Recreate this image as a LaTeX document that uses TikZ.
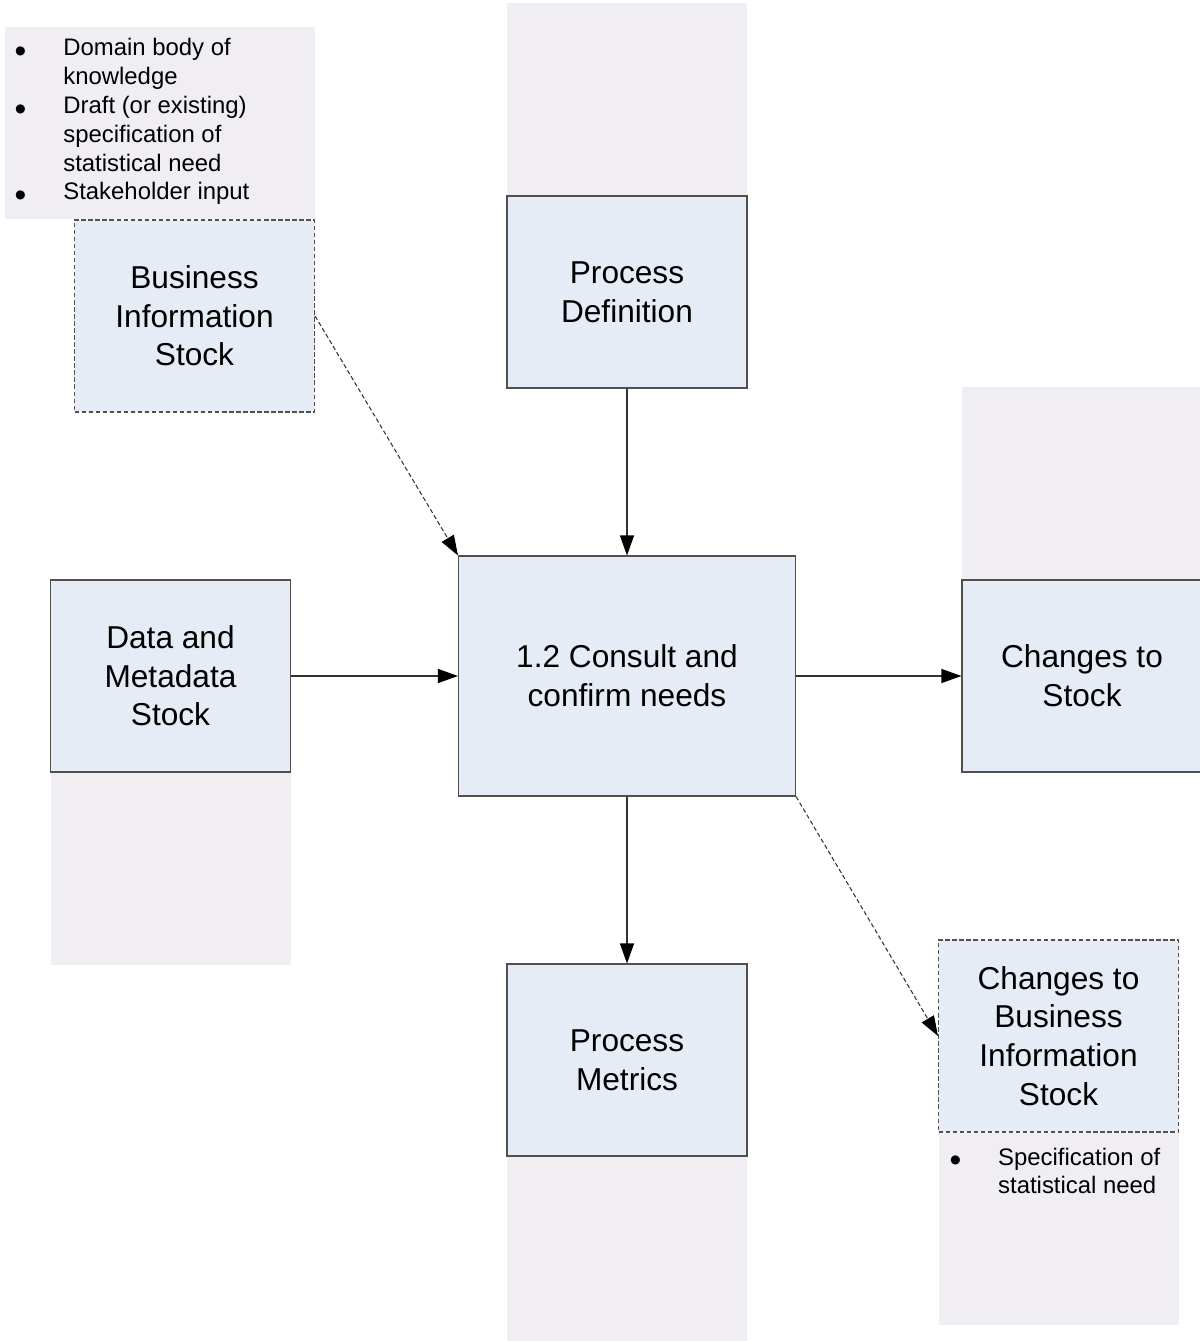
\documentclass[tikz,border=0pt]{standalone}
\usepackage{fontspec}
\setmainfont{Liberation Sans}
\usetikzlibrary{positioning, arrows.meta, backgrounds}

\definecolor{stockblue}{RGB}{230,236,246}
\definecolor{notegrey}{RGB}{240,238,243}
\definecolor{edgegrey}{RGB}{80,80,80}
\newcommand{\bigdot}{\raisebox{-3.8pt}{\fontsize{19}{19}\selectfont\textbullet}}

\begin{document}
\begin{tikzpicture}[every node/.style={font=\fontsize{18}{22}\selectfont},
    stock/.style={rectangle, draw=edgegrey, fill=stockblue, line width=0.6pt, minimum width=4.8cm, minimum height=3.84cm, align=center, inner sep=0pt},
    stockdash/.style={stock, dash pattern=on 2.5pt off 1.5pt},
    panel/.style={rectangle, fill=notegrey, minimum width=4.8cm, minimum height=3.84cm, inner sep=0pt},
    bullets/.style={font=\fontsize{13.6}{16.4}\selectfont, inner sep=0pt, align=left},
    flow/.style={-{Triangle[length=0.4cm, width=0.28cm, color=black]}, draw=black!80, line width=0.6pt},
    optflow/.style={flow, dash pattern=on 2.5pt off 1.5pt}]
    \useasboundingbox (0,0) rectangle (24,-26.82);

    \node[stockdash] (bis) at (3.89,-6.32) {Business\\Information\\Stock};
    \node[stock] (pdef) at (12.54,-5.84) {Process\\Definition};
    \node[stock, minimum width=6.74cm, minimum height=4.8cm] (core) at (12.54,-13.52) {1.2 Consult and\\confirm needs};
    \node[stock] (dms) at (3.41,-13.52) {Data and\\Metadata\\Stock};
    \node[stock] (cstock) at (21.64,-13.52) {Changes to\\Stock};
    \node[stock] (pmet) at (12.54,-21.2) {Process\\Metrics};
    \node[stockdash] (cbis) at (21.17,-20.72) {Changes to\\Business\\Information\\Stock};

    \begin{pgfonlayer}{background}
    \node[panel, minimum width=6.2cm, above left=0pt and 0pt of bis.north east] (bisnote) {};
    \node[panel, above=0pt of pdef] (pdefnote) {};
    \node[panel, below=0pt of dms] (dmsnote) {};
    \node[panel, above=0pt of cstock] (cstocknote) {};
    \node[panel, below=0pt of pmet] (pmetnote) {};
    \node[panel, below=0pt of cbis] (cbisnote) {};
    \end{pgfonlayer}

    \node[bullets, below right=0.17cm and 0.2cm of bisnote.north west] (bislist) {\begin{tabular}{@{}l@{\hspace{0.74cm}}l@{}}
      \bigdot & Domain body of\\
              & knowledge\\
      \bigdot & Draft (or existing)\\
              & specification of\\
              & statistical need\\
      \bigdot & Stakeholder input
    \end{tabular}};
    \node[bullets, below right=0.24cm and 0.22cm of cbisnote.north west] (cbislist) {\begin{tabular}{@{}l@{\hspace{0.74cm}}l@{}}
      \bigdot & Specification of\\
              & statistical need
    \end{tabular}};

    \draw[optflow] (bis.east) -- (core.north west);
    \draw[flow] (pdef) -- (core);
    \draw[flow] (dms) -- (core);
    \draw[flow] (core) -- (cstock);
    \draw[flow] (core) -- (pmet);
    \draw[optflow] (core.south east) -- (cbis.west);
\end{tikzpicture}
\end{document}
